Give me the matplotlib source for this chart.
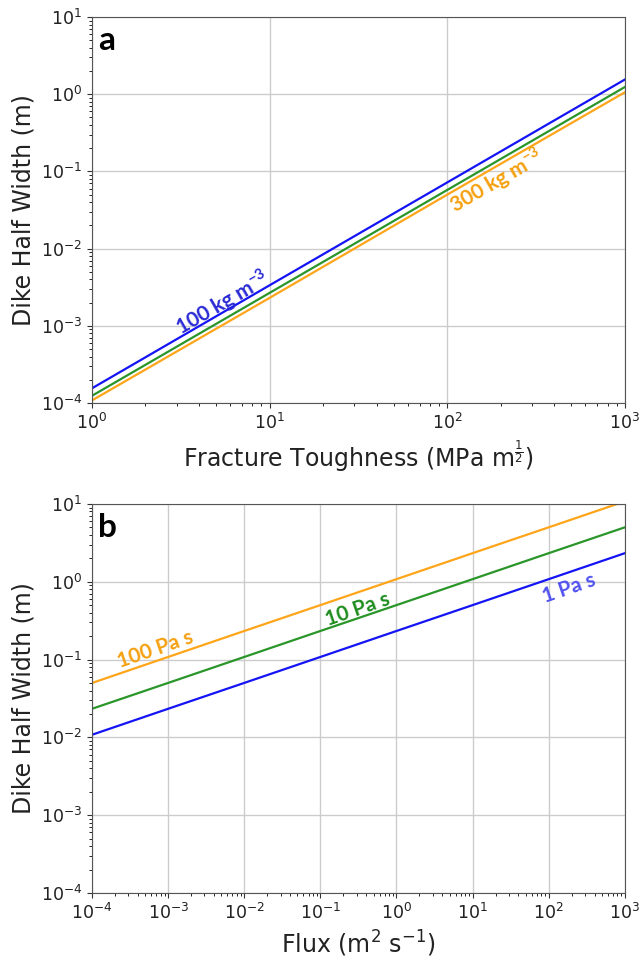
import matplotlib
matplotlib.use('Agg')
import matplotlib.pyplot as plt
from matplotlib.ticker import LogLocator, NullFormatter

# panel a: half width vs fracture toughness, three density contrasts
toughness = [1, 10, 100, 1000]
w_rho100 = [1.55e-4, 3.35e-3, 7.2e-2, 1.55]
w_rho200 = [1.24e-4, 2.67e-3, 5.75e-2, 1.24]
w_rho300 = [1.08e-4, 2.30e-3, 5.0e-2, 1.06]

# panel b: half width vs flux, three viscosities
flux = [1e-4, 1e-3, 1e-2, 1e-1, 1e0, 1e1, 1e2, 1e3]
w_mu1 = [0.0108, 0.0233, 0.0501, 0.108, 0.233, 0.501, 1.08, 2.33]
w_mu10 = [0.0233, 0.0501, 0.108, 0.233, 0.501, 1.08, 2.33, 5.01]
w_mu100 = [0.050, 0.108, 0.233, 0.501, 1.08, 2.33, 5.01, 10.8]

plt.rcParams['mathtext.bf'] = 'Lato:bold'

BLUE = '#1414f5'
GREEN = '#2a962a'
ORANGE = '#ffa51a'

fig = plt.figure(figsize=(6.42, 9.57), dpi=100)
ax1 = fig.add_axes([0.1433, 0.5789, 0.830, 0.4033])
ax2 = fig.add_axes([0.1433, 0.0669, 0.830, 0.4065])

for ax in (ax1, ax2):
    ax.set_xscale('log')
    ax.set_yscale('log')
    ax.set_ylim(1e-4, 1e1)
    ax.grid(True, which='major', color='#cccccc', linewidth=1.0)
    ax.set_axisbelow(True)
    ax.tick_params(labelsize=12.5, colors='#333333', labelcolor='#222222')
    for s in ax.spines.values():
        s.set_color('#555555')
    ax.set_ylabel('Dike Half Width (m)', fontsize=17, color='#222222')
    for axis in (ax.xaxis, ax.yaxis):
        axis.set_minor_locator(LogLocator(base=10, subs=range(2, 10), numticks=100))
        axis.set_minor_formatter(NullFormatter())

ax1.set_xlim(1, 1e3)
ax1.plot(toughness, w_rho100, color=BLUE, lw=1.6)
ax1.plot(toughness, w_rho200, color=GREEN, lw=1.6)
ax1.plot(toughness, w_rho300, color=ORANGE, lw=1.6)
ax1.set_xlabel(r'Fracture Toughness (MPa m$^{\frac{1}{2}}$)', fontsize=17, color='#222222')
ax1.text(5.4, 2.0e-3, r'100 kg m$^{\mathbf{-3}}$', color='#2a2ad6', fontsize=15,
         family='Lato', weight='bold', rotation=30, ha='center', va='center',
         math_fontfamily='custom')
ax1.text(190, 0.075, r'300 kg m$^{\mathbf{-3}}$', color='#f5a010', fontsize=15,
         family='Lato', weight='bold', rotation=30, ha='center', va='center',
         math_fontfamily='custom')
ax1.text(0.012, 0.978, 'a', transform=ax1.transAxes, fontsize=24, family='Lato',
         weight='bold', ha='left', va='top')

ax2.set_xlim(1e-4, 1e3)
ax2.plot(flux, w_mu1, color=BLUE, lw=1.6)
ax2.plot(flux, w_mu10, color=GREEN, lw=1.6)
ax2.plot(flux, w_mu100, color=ORANGE, lw=1.6)
ax2.set_xticks(flux)
ax2.set_xlabel(r'Flux (m$^2$ s$^{-1}$)', fontsize=17, color='#222222')
ax2.text(6.7e-4, 0.133, '100 Pa s', color='#f5a010', fontsize=15,
         family='Lato', weight='bold', rotation=19, ha='center', va='center')
ax2.text(0.31, 0.447, '10 Pa s', color='#1e8c1e', fontsize=15,
         family='Lato', weight='bold', rotation=19, ha='center', va='center')
ax2.text(185, 0.83, '1 Pa s', color='#5050f0', fontsize=15,
         family='Lato', weight='bold', rotation=19, ha='center', va='center')
ax2.text(0.012, 0.978, 'b', transform=ax2.transAxes, fontsize=24, family='Lato',
         weight='bold', ha='left', va='top')

fig.savefig('out.png', dpi=100)
